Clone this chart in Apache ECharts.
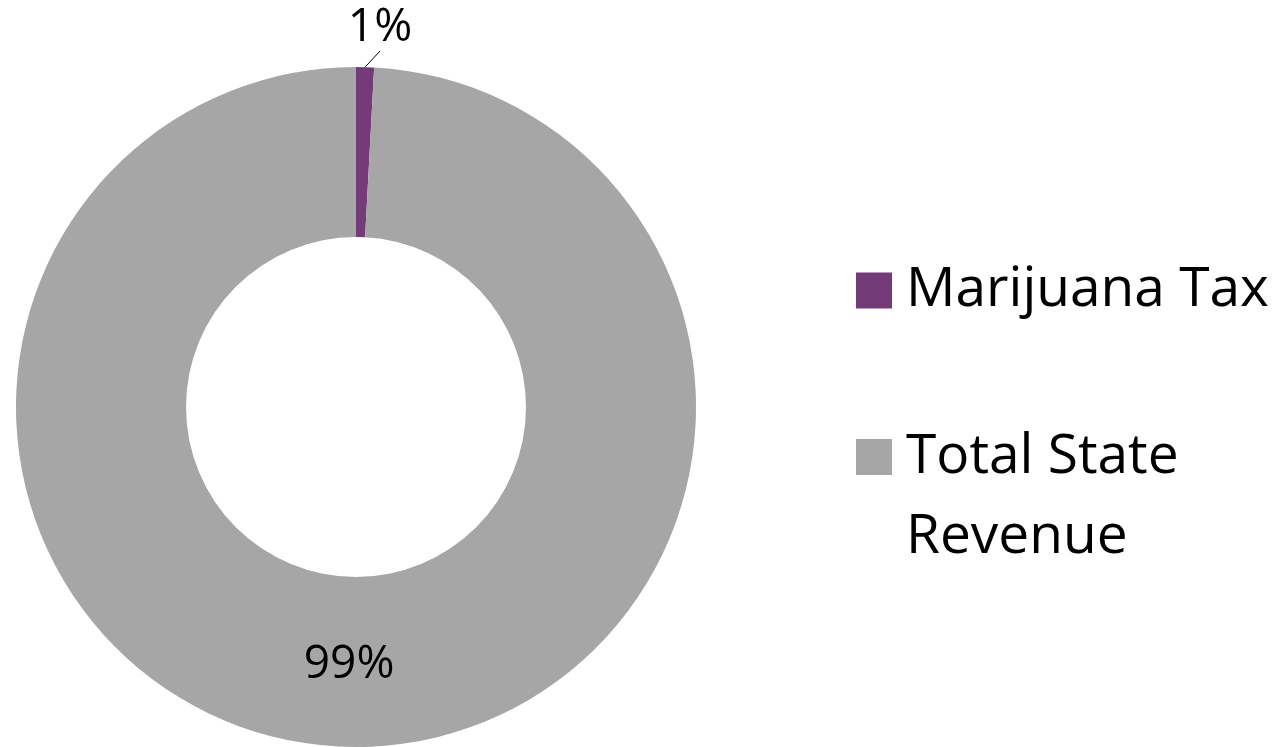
<!DOCTYPE html>
<html>
<head>
<meta charset="utf-8">
<script src="https://cdn.jsdelivr.net/npm/echarts@6/dist/echarts.min.js"></script>
<style>
  html, body { margin: 0; padding: 0; background: #fff; }
  #chart { width: 1283px; height: 747px; }
</style>
</head>
<body>
<div id="chart"></div>
<script>
var names = ['Marijuana Tax', 'Total State Revenue'];
var values = [0.85, 99.15];
var colors = ['#733B78', '#A6A6A6'];

var font = '"Open Sans", sans-serif';
var myChart = echarts.init(document.getElementById('chart'));

var pieData = [];
for (var i = 0; i < names.length; i++) {
  pieData.push({
    name: names[i],
    value: values[i],
    itemStyle: { color: colors[i] },
    label: i === 0 ? { position: 'outside' } : { position: 'inside' },
    labelLine: { show: i === 0 }
  });
}

option = {
  backgroundColor: '#fff',
  animation: false,
  legend: [{
    orient: 'vertical',
    left: 856,
    top: 263,
    padding: 0,
    itemWidth: 36,
    itemHeight: 36,
    icon: 'rect',
    data: [names[0]],
    textStyle: { fontFamily: font, fontSize: 55, color: '#000', padding: [0, 0, 0, 9] }
  }, {
    orient: 'vertical',
    left: 856,
    top: 337,
    padding: 0,
    itemWidth: 36,
    itemHeight: 36,
    icon: 'rect',
    data: [names[1]],
    // empty first line keeps the icon level with "Total State"
    formatter: function (n) { return '\nTotal State\nRevenue'; },
    textStyle: { fontFamily: font, fontSize: 55, color: '#000', lineHeight: 80, padding: [0, 0, 0, 9] }
  }],
  series: [{
    type: 'pie',
    center: [356, 407],
    radius: [170, 340],
    startAngle: 90,
    clockwise: true,
    legendHoverLink: false,
    itemStyle: { borderWidth: 0 },
    label: {
      show: true,
      fontFamily: font,
      fontSize: 46,
      color: '#000',
      formatter: function (p) { return Math.round(p.percent) + '%'; }
    },
    labelLine: {
      lineStyle: { color: '#000', width: 1 },
      length: 10,
      length2: 0
    },
    labelLayout: function (p) {
      if (p.dataIndex === 0) {
        return { x: 380, y: 28, align: 'center', verticalAlign: 'middle' };
      }
    },
    data: pieData
  }]
};

myChart.setOption(option);
</script>
</body>
</html>
